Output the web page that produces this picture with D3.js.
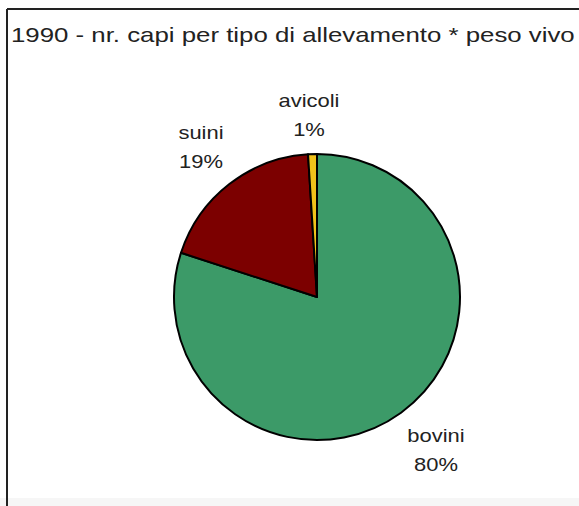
<!DOCTYPE html>
<html>
<head>
<meta charset="utf-8">
<script src="https://cdn.jsdelivr.net/npm/d3@7"></script>
<style>
  html, body { margin: 0; padding: 0; background: #fff; }
  svg { display: block; }
  text { font-family: "Liberation Sans", Arial, Helvetica, sans-serif; fill: #222; }
</style>
</head>
<body>
<svg id="chart" width="579" height="506"></svg>
<script>
// Livestock share by type (live weight), 1990
const categories = ["bovini", "suini", "avicoli"];
const values = [80, 19, 1];
const colors = ["#3c9a68", "#7c0000", "#f0c21a"];
const title = "1990 - nr. capi per tipo di allevamento * peso vivo";

const svg = d3.select("#chart");
const W = 579, H = 506;

// frame (open on the right / bottom)
svg.append("rect").attr("x", 0).attr("y", 498).attr("width", W).attr("height", H - 498).attr("fill", "#f6f6f6");
svg.append("line").attr("x1", 7).attr("y1", 9).attr("x2", W).attr("y2", 9)
  .attr("stroke", "#222").attr("stroke-width", 2);
svg.append("line").attr("x1", 7).attr("y1", 9).attr("x2", 7).attr("y2", H)
  .attr("stroke", "#222").attr("stroke-width", 2);

// title
svg.append("g").attr("transform", "translate(11,42) scale(1.23,1)")
  .append("text").attr("font-size", 21).text(title);

// pie
const cx = 317, cy = 297, r = 143;
const data = categories.map((c, i) => ({ name: c, value: values[i], color: colors[i] }));
const pie = d3.pie().value(d => d.value).sort(null);
const arc = d3.arc().innerRadius(0).outerRadius(r);
const arcs = pie(data);

const g = svg.append("g").attr("transform", `translate(${cx},${cy})`);
g.selectAll("path").data(arcs).join("path")
  .attr("d", arc)
  .attr("fill", d => d.data.color)
  .attr("stroke", "#000")
  .attr("stroke-width", 2)
  .attr("stroke-linejoin", "round");

// labels placed outside the slices along their mid-angle
const labelOffset = { bovini: [0, 0], suini: [0, 0], avicoli: [0, 0] };
const labelRadius = { bovini: 190, suini: 175, avicoli: 190 };
arcs.forEach(a => {
  const mid = (a.startAngle + a.endAngle) / 2;
  const lr = labelRadius[a.data.name];
  let x = Math.sin(mid) * lr, y = -Math.cos(mid) * lr;
  if (a.data.name === "avicoli") { x = -8; y = -190; }
  if (a.data.name === "suini") { x = -116; y = -158; }
  if (a.data.name === "bovini") { x = 119; y = 145; }
  const lg = g.append("g").attr("transform", `translate(${x},${y}) scale(1.22,1)`);
  lg.append("text").attr("text-anchor", "middle").attr("font-size", 18).attr("y", 0).text(a.data.name);
  lg.append("text").attr("text-anchor", "middle").attr("font-size", 18).attr("y", 29)
    .text(d3.format(".0f")(a.data.value) + "%");
});
</script>
</body>
</html>
